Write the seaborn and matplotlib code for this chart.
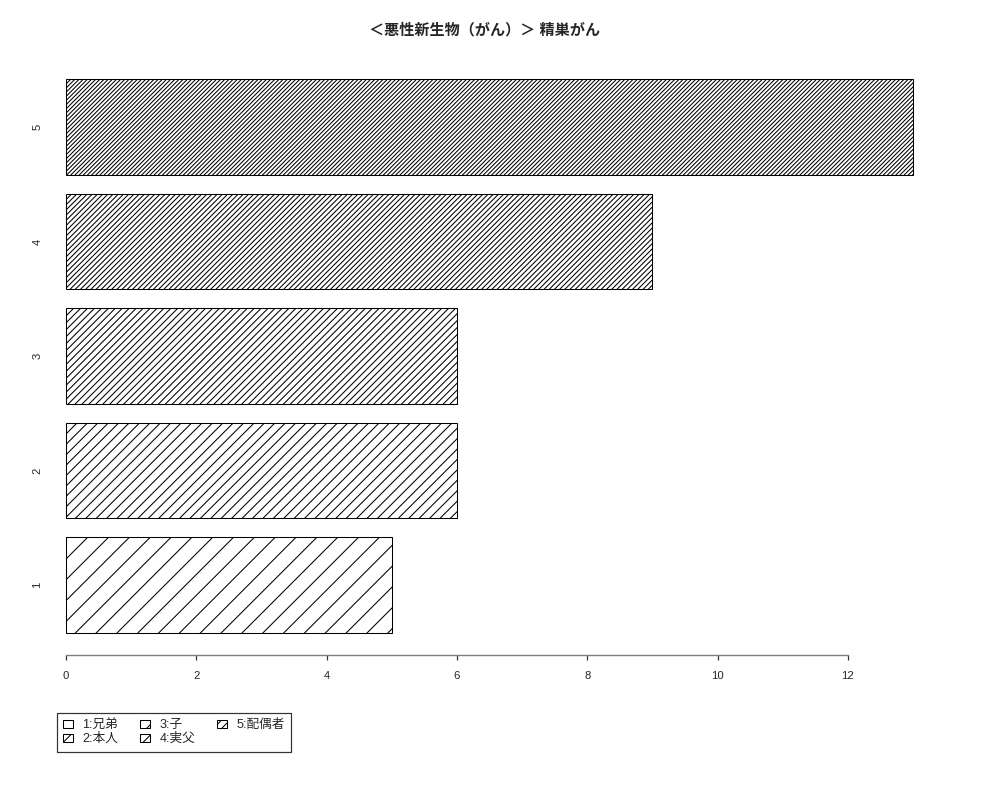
import pandas as pd
import matplotlib
matplotlib.use("Agg")
import matplotlib.pyplot as plt
import seaborn as sns
from matplotlib.patches import Patch

# data
categories = ["1", "2", "3", "4", "5"]
counts = [5, 6, 6, 9, 13]
legend_labels = ["1:兄弟", "2:本人", "3:子", "4:実父", "5:配偶者"]
title = "＜悪性新生物（がん）＞ 精巣がん"

sns.set_style("white")
plt.rcParams["font.family"] = ["Liberation Sans", "Noto Sans CJK JP", "DejaVu Sans"]
plt.rcParams["hatch.linewidth"] = 0.6
plt.rcParams["hatch.color"] = "black"

df = pd.DataFrame({"cat": categories, "n": counts})
order = categories[::-1]
hatches = {c: "/" * (2 * (i + 1)) for i, c in enumerate(categories)}
# the little legend boxes only fit a line or two of hatching
legend_hatches = ["", "///", "///", "////", "/////"]

fig = plt.figure(figsize=(8, 6.4), dpi=125)
ax = fig.add_axes([0.032, 0.18125, 0.915, 0.7475])

sns.barplot(data=df, x="n", y="cat", orient="h", order=order, color="white",
            edgecolor="black", linewidth=0.6, width=1 / 1.2, ax=ax)

for p in ax.patches:
    idx = int(round(p.get_y() + p.get_height() / 2))
    p.set_hatch(hatches[order[idx]])
    p.set_facecolor("white")
    p.set_edgecolor("black")

ax.set_xlim(-0.52, 13.52)
ax.set_ylim(4.61, -0.61)
ax.set_xlabel("")
ax.set_ylabel("")

for s in ["top", "right", "left"]:
    ax.spines[s].set_visible(False)
ax.spines["bottom"].set_bounds(0, 12)
ax.spines["bottom"].set_color("#808080")
ax.spines["bottom"].set_linewidth(0.8)

ax.set_xticks(range(0, 13, 2))
ax.tick_params(axis="x", length=3, width=0.7, color="#333333", labelsize=6.5, pad=6, bottom=True)
ax.tick_params(axis="y", length=0, labelsize=6.5, pad=-6)
for lab in ax.get_yticklabels():
    lab.set_rotation(90)
    lab.set_va("center")

ax.set_title(title, fontsize=8.7, fontweight="bold", pad=13, x=0.495)

handles = [Patch(facecolor="white", edgecolor="black", hatch=h, linewidth=0.6)
           for h in legend_hatches]
leg = fig.legend(handles, legend_labels, ncol=3, loc="upper left",
                 bbox_to_anchor=(0.057, 0.109), bbox_transform=fig.transFigure,
                 fontsize=7.3, frameon=True, fancybox=False, borderaxespad=0,
                 handlelength=0.75, handleheight=0.65, handletextpad=0.75,
                 columnspacing=1.75, labelspacing=0.15, borderpad=0.5)
leg.get_frame().set_edgecolor("black")
leg.get_frame().set_linewidth(0.7)

fig.savefig("out.png", dpi=125)
